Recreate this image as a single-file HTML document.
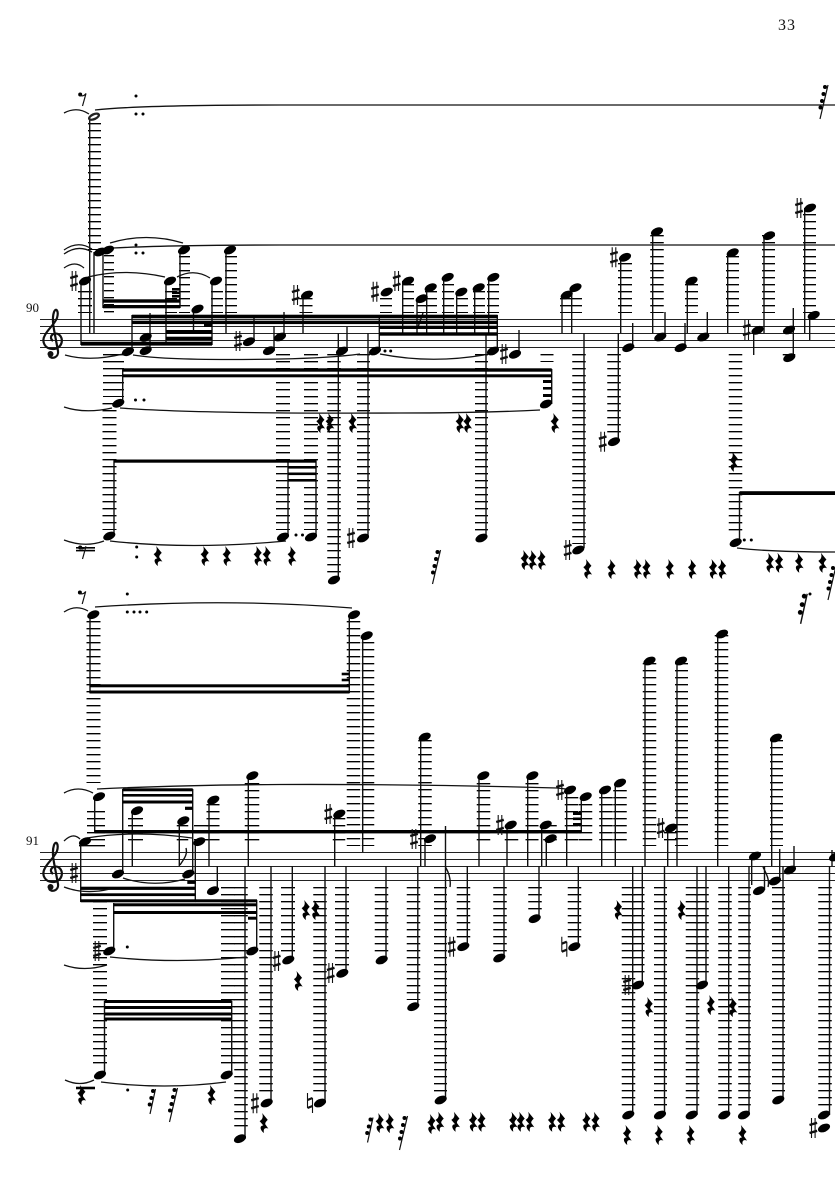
<!DOCTYPE html>
<html><head><meta charset="utf-8"><title>Score page 33</title>
<style>
html,body{margin:0;padding:0;background:#fff}
svg{display:block}
.st{stroke:#222;stroke-width:1.1;fill:none}
.sm path{stroke:#111;stroke-width:1.4;fill:none}
.L path{stroke:#000;stroke-dasharray:1.4 5.6;fill:none}
.T path{stroke:#111;stroke-width:1.3;fill:none}
.B rect{fill:#000}
text{font-family:"Liberation Serif",serif;fill:#111}
</style></head><body>
<svg xmlns="http://www.w3.org/2000/svg" width="835" height="1181" viewBox="0 0 835 1181">
<defs>
<ellipse id="h" rx="6.4" ry="3.9" transform="rotate(-24)"/>
<g id="s" stroke="#111" fill="none"><path d="M-1.8-10V10M1.8-10V10" stroke-width="1.1"/><path d="M-3.8-3L3.8-5.2M-3.8 5L3.8 2.8" stroke-width="2.4"/></g>
<g id="n" stroke="#111" fill="none"><path d="M-2.5-10V5M2.5-5V10" stroke-width="1.1"/><path d="M-2.5-3L2.5-5M-2.5 5L2.5 3" stroke-width="2.2"/></g>
<path id="r" transform="scale(1.25)" d="M-1.5-8L3-2.5C1.5-1 1-.5 1 1L3.5 4.5C1.5 3.5-1 4 0 8C-3 6-4 2-.5 2L-3.5-1.5C-1-3-.5-5-1.5-8Z"/>
<g id="e"><circle cx="-2.8" cy="-5.5" r="2"/><path d="M-3-5C-1-3.5 1-4 3-6.5L-.5 6" stroke="#111" stroke-width="1.2" fill="none"/></g>
<g id="m"><path d="M4-12.5L-1.5 12.5" stroke="#111" stroke-width="1.2"/><circle cx="1.5" cy="-10.5" r="2"/><circle cx="-.2" cy="-3.5" r="2"/><circle cx="-1.8" cy="3" r="2"/></g>
<g id="M"><path d="M5-17L-3 17" stroke="#111" stroke-width="1.2"/><circle cx="2" cy="-15" r="2"/><circle cx=".5" cy="-8" r="2"/><circle cx="-1" cy="-1" r="2"/><circle cx="-2.5" cy="5.5" r="2"/></g>
<g id="c"><path d="M53 341C48 337 53 332 58 334C65 338 62 349 53 349C45 349 41 342 45 335C48 329 54 325 57 318C59 311 56 307 54 312C52 318 53 325 55 335L58 351C59 357 52 360 49 356" fill="none" stroke="#111" stroke-width="2.2"/><circle cx="50.5" cy="354" r="3" fill="#111"/></g>
</defs>
<rect width="835" height="1181" fill="#fff"/>
<text x="778" y="30" font-size="16" letter-spacing="1">33</text>
<text x="26" y="312" font-size="13">90</text>
<text x="26" y="845" font-size="13">91</text>

<path class="st" d="M40 319.5H835M40 326.5H835M40 333.5H835M40 340.5H835M40 347.5H835"/>
<path class="st" d="M40 852.5H835M40 859.5H835M40 866.5H835M40 873.5H835M40 880.5H835"/>
<use href="#c"/><use href="#c" y="533"/>
<use href="#s" x="74" y="873"/>

<g class="L">
<path stroke-width="13" d="M94.5 123V250"/>
<path stroke-width="10" d="M109 255V313"/>
<path stroke-width="14" d="M85 291V313"/>
<path stroke-width="11" d="M184.5 256V313"/>
<path stroke-width="12" d="M171 291V313"/>
<path stroke-width="12" d="M217 291V313"/>
<path stroke-width="12" d="M231 256V313"/>
<path stroke-width="13" d="M306 298V313"/>
<path stroke-width="12" d="M386 298V313"/><path stroke-width="12" d="M408 284V313"/>
<path stroke-width="10" d="M422 305V313"/><path stroke-width="12" d="M431 291V313"/>
<path stroke-width="12" d="M448 284V313"/><path stroke-width="12" d="M462 298V313"/>
<path stroke-width="12" d="M479 291V313"/><path stroke-width="12" d="M493 284V313"/>
<path stroke-width="22" d="M571 298V313"/>
<path stroke-width="14" d="M625 263V313"/>
<path stroke-width="13.5" d="M657 235V313"/>
<path stroke-width="13" d="M691.5 284V313"/>
<path stroke-width="13" d="M732.5 256V313"/>
<path stroke-width="13" d="M768.5 235V313"/>
<path stroke-width="13" d="M809.5 214V313"/>

<path stroke-width="21" d="M113.5 354V397"/>
<path stroke-width="14" d="M109.5 403V530"/>
<path stroke-width="14" d="M283 354V530"/>
<path stroke-width="14" d="M311 354V530"/>
<path stroke-width="13.5" d="M334 354V573"/>
<path stroke-width="13" d="M363.5 354V531"/>
<path stroke-width="13" d="M481.5 354V531"/>
<path stroke-width="13" d="M547 354V362"/>
<path stroke-width="13.5" d="M579 354V544"/>
<path stroke-width="13.5" d="M614 354V435"/>
<path stroke-width="13.5" d="M735.5 354V536"/>
<path stroke-width="12.5" d="M789 354V356"/>

<path stroke-width="14" d="M93.5 621V783"/>
<path stroke-width="18" d="M96 811V846"/>
<path stroke-width="26" d="M92 845V847"/>
<path stroke-width="15" d="M135.5 818V846"/>
<path stroke-width="11.5" d="M182.5 825V846"/>
<path stroke-width="14" d="M201 825V846"/>
<path stroke-width="13" d="M213 804V846"/>
<path stroke-width="14.5" d="M252 783V846"/>
<path stroke-width="13.5" d="M353.5 621V846"/>
<path stroke-width="12.5" d="M368 642V846"/>
<path stroke-width="12.5" d="M339 818V846"/>
<path stroke-width="13.5" d="M425 740V846"/>
<path stroke-width="13.5" d="M483.5 783V846"/>
<path stroke-width="13.5" d="M511.5 832V846"/>
<path stroke-width="13" d="M532 783V846"/>
<path stroke-width="13.5" d="M550 825V846"/>
<path stroke-width="13.5" d="M571.5 797V846"/>
<path stroke-width="13.5" d="M585.5 804V846"/>
<path stroke-width="13.5" d="M606 797V846"/>
<path stroke-width="13.5" d="M620 790V846"/>
<path stroke-width="13.5" d="M649.5 663V846"/>
<path stroke-width="13" d="M670.5 832V846"/>
<path stroke-width="13" d="M681.5 663V846"/>
<path stroke-width="13.5" d="M721.5 635V846"/>
<path stroke-width="13" d="M776.5 740V846"/>

<path stroke-width="14" d="M100 887V1069"/>
<path stroke-width="14" d="M228 887V1069"/>
<path stroke-width="13.5" d="M241 887V1132"/>
<path stroke-width="13.5" d="M266 887V1097"/>
<path stroke-width="14" d="M288 887V953"/>
<path stroke-width="13.5" d="M320 887V1097"/>
<path stroke-width="14" d="M342 887V967"/>
<path stroke-width="13.5" d="M381.5 887V953"/>
<path stroke-width="13.5" d="M413.5 887V1000"/>
<path stroke-width="13" d="M440.5 887V1094"/>
<path stroke-width="13.5" d="M463.5 887V939"/>
<path stroke-width="13.5" d="M500 887V953"/>
<path stroke-width="13.5" d="M535 887V911"/>
<path stroke-width="13.5" d="M574.5 887V939"/>
<path stroke-width="13.5" d="M628.5 887V1108"/>
<path stroke-width="13" d="M638 887V978"/>
<path stroke-width="13" d="M660.5 887V1108"/>
<path stroke-width="13.5" d="M692.5 887V1108"/>
<path stroke-width="13.5" d="M702 887V978"/>
<path stroke-width="13.5" d="M725 887V1108"/>
<path stroke-width="12.5" d="M744.5 887V1108"/>
<path stroke-width="13" d="M778.5 887V1094"/>
<path stroke-width="13.5" d="M825 887V1108"/>
</g>

<g class="sm">
<path d="M89.7 117V333M94 252V333M81 281V345M103 250V308M166 281V345M180 250V308M212 281V345M193.5 309V334M226 250V333"/>
<path d="M132 315V352M150 313V351M254 317V342M274 326V351M284 312V337M303 295V333M338.3 333V580M347 327V351M368 333V538"/>
<path d="M379.3 315V352M402.7 281V334M417 299V333M426.7 288V334M443.7 277V334M456.7 292V334M474.7 288V334M488.7 277V334M497.3 315V351M486 335V538M519 330V354"/>
<path d="M122.7 369V403M551.7 369V404M114 460V536M288 460V537M316 460V537M739.5 492V542"/>
<path d="M562 295V333M571.7 288V333M584 333V548M618.3 333V441M620.7 257V333M632.7 323V348M652.7 232V333M665 312V337M685 323V348M687.3 281V333M707.3 312V337M727.7 253V333M753.7 330V355M764 235V333M793.3 308V358M804.7 208V333M809.7 315V340"/>
<path d="M423 313L418 327"/>
<path d="M90 615V693M94.7 797V832M349.3 615V693M362.7 636V852M122.7 789V873M192.7 789V873M132.3 811V866M179.3 821V866M80.7 842V902M195.3 842V902M209 800V866M248.3 776V866M217.3 866V890M113.7 903V951M256.7 900V951"/>
<path d="M186 848C188 855 183 860 180 865"/>
<path d="M104.5 1001V1075M231.7 1001V1075M245 866V1139M271 866V1103M292.3 866V960M325 866V1103M334.7 814V866M346 866V973M386 866V960M417.8 866V1006M420.7 737V866M425 839V866M445.5 826V1100M450 887C451 880 449 873 445.5 867M467.3 866V947M479 776V866M504 866V958M507 825V866M527.7 776V866M539 866V919M541.7 825V866M546.3 839V866"/>
<path d="M566.7 790V866M578.3 866V947M581.3 797V832M601.7 790V866M615.3 783V866M632.7 866V1115M642.3 866V985M645 661V866M664.5 866V1115M667.7 828V866M677 661V866M697 866V1115M706 866V985M717.7 634V866M728.7 866V1115M749 866V1115M751.7 856V885M771.7 738V866M783 866V1100M829.5 866V1115M779.7 849V881M794 846V870M764.5 866V890M832 850V866"/>
<path d="M763 867C766 873 770 880 768 887"/>
</g>

<g class="B">
<rect x="103" y="299.3" width="77" height="3.4"/><rect x="103" y="305" width="77" height="3.3"/>
<rect x="172" y="288" width="8" height="2.6"/><rect x="172" y="291.5" width="8" height="2.6"/><rect x="172" y="295" width="8" height="2.6"/>
<rect x="81" y="341.7" width="131" height="3.9"/><rect x="166" y="330" width="46" height="4"/><rect x="166" y="336.7" width="46" height="3.3"/>
<rect x="204" y="323" width="8" height="4"/>
<rect x="132" y="314.7" width="365.5" height="3.6"/><rect x="132" y="320.7" width="365.5" height="3.4"/>
<rect x="379" y="325.7" width="118.5" height="3.3"/><rect x="379" y="332.3" width="118.5" height="3.4"/>
<rect x="122.7" y="368.3" width="429" height="3.4"/><rect x="122.7" y="374.3" width="429" height="3"/>
<rect x="543" y="380" width="8.7" height="3"/><rect x="543" y="387" width="8.7" height="2.6"/><rect x="543" y="394" width="8.7" height="3"/>
<rect x="114" y="459.5" width="202" height="3.2"/><rect x="288" y="466" width="28" height="2.6"/><rect x="288" y="472.5" width="28" height="2.6"/><rect x="288" y="479" width="28" height="2.6"/>
<rect x="739.5" y="491.2" width="96" height="3.8"/>
<rect x="76" y="547" width="19" height="1.6"/><rect x="76" y="549.8" width="19" height="1.6"/>
<rect x="89.5" y="684.3" width="260" height="3"/><rect x="89.5" y="690.5" width="260" height="3"/>
<rect x="341.7" y="672.7" width="7.6" height="2.6"/><rect x="341.7" y="678.7" width="7.6" height="2.6"/>
<rect x="122.7" y="788.3" width="70" height="3"/><rect x="122.7" y="794" width="70" height="2.6"/><rect x="122.7" y="800.5" width="70" height="3"/>
<rect x="185" y="806.7" width="7.7" height="3.2"/>
<rect x="94.7" y="830" width="486.6" height="3.4"/>
<rect x="573" y="812" width="8" height="3"/><rect x="573" y="817.5" width="8" height="2.6"/><rect x="573" y="823" width="8" height="3"/>
<rect x="80.7" y="886.7" width="114.6" height="3.2"/><rect x="80.7" y="893.3" width="114.6" height="2.8"/><rect x="80.7" y="899.3" width="114.6" height="3"/>
<rect x="187.3" y="880.7" width="8" height="3.2"/>
<rect x="195" y="899.3" width="62" height="3"/>
<rect x="113.7" y="903.3" width="143" height="3"/><rect x="113.7" y="911" width="143" height="3"/>
<rect x="248" y="916.7" width="8.7" height="3"/>
<rect x="104.5" y="1000" width="127.2" height="3"/><rect x="104.5" y="1006" width="127.2" height="3"/><rect x="104.5" y="1012.5" width="127.2" height="3"/><rect x="104.5" y="1017.5" width="127.2" height="3"/>
<rect x="76" y="1086.7" width="19" height="2.6"/>
</g>

<g class="T">
<path d="M64 113Q77 106 89 114"/>
<path d="M95 110Q140 105 280 105L835 105"/>
<path d="M64 250Q78 240 92 249M64 254Q78 244 92 252M64 268Q75 260 84 268"/>
<path d="M110 243Q146 232 183 243M113 248Q170 245 280 245L835 245"/>
<path d="M88 277Q125 268 165 277M177 277Q194 268 210 278"/>
<path d="M65 355Q90 362 123 354M133 355Q170 361 280 359Q330 358 360 354M380 354Q430 364 484 355"/>
<path d="M64 407Q85 414 112 408M120 408Q200 414 400 413Q480 413 540 410"/>
<path d="M64 540Q85 548 104 541M110 541Q190 550 286 541"/>
<path d="M737 548Q770 552 835 552"/>
<path d="M64 612Q76 604 88 611M95 607Q225 598 352 608"/>
<path d="M64 793Q78 785 93 793M97 789Q180 785 280 784.5Q420 784 557 788L575 790"/>
<path d="M64 841Q73 832 80 839M87 838Q135 830 192 838"/>
<path d="M64 887Q85 895 110 889M123 878Q153 888 185 879"/>
<path d="M110 957Q176 964 247 957M64 965Q84 972 107 965"/>
<path d="M65 1080Q80 1087 94 1080M101 1082Q165 1090 226 1082"/>
</g>

<g>
<circle cx="136" cy="96" r="1.5"/><circle cx="136" cy="114" r="1.5"/><circle cx="143" cy="114" r="1.5"/>
<circle cx="136" cy="245" r="1.5"/><circle cx="136" cy="253" r="1.5"/><circle cx="143" cy="253" r="1.5"/>
<circle cx="135.5" cy="400" r="1.5"/><circle cx="144" cy="400" r="1.5"/>
<circle cx="136.7" cy="547" r="1.5"/><circle cx="136.7" cy="557" r="1.5"/>
<circle cx="296" cy="535" r="1.5"/><circle cx="302.5" cy="535" r="1.5"/>
<circle cx="385" cy="351" r="1.5"/><circle cx="390.7" cy="351" r="1.5"/>
<circle cx="744.3" cy="540" r="1.5"/><circle cx="751.3" cy="540" r="1.5"/>
<circle cx="127.3" cy="594" r="1.5"/><circle cx="127.3" cy="612" r="1.5"/><circle cx="134" cy="612" r="1.5"/><circle cx="140" cy="612" r="1.5"/><circle cx="146.7" cy="612" r="1.5"/>
<circle cx="127.3" cy="947" r="1.5"/><circle cx="127.7" cy="1090" r="1.5"/><circle cx="810" cy="594" r="1.5"/>
</g>

<ellipse cx="94" cy="116.7" rx="6.4" ry="3.6" transform="rotate(-24 94 116.7)" fill="#222"/>
<ellipse cx="94" cy="116.7" rx="4" ry="1.2" transform="rotate(-24 94 116.7)" fill="#fff"/>
<use href="#h" x="100" y="252"/><use href="#h" x="108" y="250"/><use href="#h" x="184" y="250"/><use href="#h" x="230" y="250"/>
<use href="#h" x="85" y="281"/><use href="#h" x="170" y="281"/><use href="#h" x="216" y="281"/><use href="#h" x="197.5" y="309"/>
<use href="#h" x="128" y="351.7"/><use href="#h" x="145.7" y="350.7"/><use href="#h" x="145.7" y="337.3"/>
<use href="#h" x="249" y="341.7"/><use href="#h" x="269" y="350.7"/><use href="#h" x="280" y="337"/><use href="#h" x="307" y="295"/>
<use href="#h" x="342" y="351"/><use href="#h" x="375" y="351"/>
<use href="#h" x="386.7" y="292"/><use href="#h" x="408" y="281"/><use href="#h" x="421.7" y="298.7"/><use href="#h" x="430.7" y="287.7"/><use href="#h" x="447.7" y="277.3"/><use href="#h" x="461.3" y="292"/><use href="#h" x="478.7" y="287.7"/><use href="#h" x="493.3" y="277.3"/>
<use href="#h" x="493" y="351"/><use href="#h" x="515" y="354.3"/>
<use href="#h" x="118.3" y="403.3"/><use href="#h" x="546" y="404"/>
<use href="#h" x="109.3" y="536"/><use href="#h" x="283" y="537"/><use href="#h" x="311" y="537"/>
<use href="#h" x="334" y="580"/><use href="#h" x="363" y="538"/><use href="#h" x="481.5" y="538"/>
<use href="#h" x="578.3" y="550"/><use href="#h" x="614" y="441.7"/>
<use href="#h" x="566.7" y="295"/><use href="#h" x="575.5" y="287.7"/>
<use href="#h" x="625" y="257.3"/><use href="#h" x="628.3" y="347.7"/><use href="#h" x="657" y="231.7"/><use href="#h" x="660.3" y="337"/>
<use href="#h" x="680.7" y="347.7"/><use href="#h" x="691.5" y="281"/><use href="#h" x="703.3" y="337"/><use href="#h" x="732.7" y="252.7"/>
<use href="#h" x="757.5" y="330.3"/><use href="#h" x="769" y="235.7"/><use href="#h" x="789" y="330"/><use href="#h" x="789.3" y="357.7"/>
<use href="#h" x="810" y="208"/><use href="#h" x="813.7" y="315.3"/><use href="#h" x="735.7" y="542.7"/>

<use href="#h" x="93.3" y="614.7"/><use href="#h" x="354" y="614.7"/><use href="#h" x="366.7" y="635.7"/>
<use href="#h" x="99" y="796.7"/><use href="#h" x="137" y="810.7"/><use href="#h" x="183.3" y="820.7"/><use href="#h" x="85" y="841.7"/><use href="#h" x="199.3" y="841.7"/>
<use href="#h" x="118" y="874"/><use href="#h" x="188.3" y="874"/><use href="#h" x="213.3" y="800"/><use href="#h" x="252.3" y="775.7"/><use href="#h" x="213" y="890.7"/>
<use href="#h" x="109.3" y="951"/><use href="#h" x="252.3" y="951"/>
<use href="#h" x="100" y="1075"/><use href="#h" x="226.7" y="1075"/><use href="#h" x="240" y="1138.7"/><use href="#h" x="266.7" y="1103"/>
<use href="#h" x="288.3" y="960"/><use href="#h" x="320" y="1103"/><use href="#h" x="342.3" y="973.3"/><use href="#h" x="381.7" y="960"/>
<use href="#h" x="413.3" y="1006.7"/><use href="#h" x="440.7" y="1100"/><use href="#h" x="463.3" y="946.7"/><use href="#h" x="499.3" y="958"/><use href="#h" x="534.7" y="918.7"/><use href="#h" x="574.3" y="946.7"/>
<use href="#h" x="339.3" y="814"/><use href="#h" x="430" y="838.7"/><use href="#h" x="424.7" y="737"/><use href="#h" x="483.3" y="775.7"/><use href="#h" x="510.7" y="825"/><use href="#h" x="532.3" y="775.7"/><use href="#h" x="545.7" y="825"/><use href="#h" x="550.7" y="838.7"/>
<use href="#h" x="570" y="790"/><use href="#h" x="585.7" y="796.7"/><use href="#h" x="605" y="790"/><use href="#h" x="620" y="783"/>
<use href="#h" x="649.5" y="661"/><use href="#h" x="671" y="828"/><use href="#h" x="681" y="661"/><use href="#h" x="722" y="634"/><use href="#h" x="776" y="738"/>
<use href="#h" x="755" y="856"/><use href="#h" x="759" y="890.7"/><use href="#h" x="775" y="881"/><use href="#h" x="790" y="870"/><use href="#h" x="835" y="857"/>
<use href="#h" x="628.3" y="1115"/><use href="#h" x="660" y="1115"/><use href="#h" x="691.7" y="1115"/><use href="#h" x="724.3" y="1115"/><use href="#h" x="744" y="1115"/><use href="#h" x="778.3" y="1100"/><use href="#h" x="824" y="1115"/><use href="#h" x="824" y="1128"/>
<use href="#h" x="638" y="985"/><use href="#h" x="702" y="985"/>

<use href="#s" x="74" y="281"/><use href="#s" x="238" y="341"/><use href="#s" x="295.7" y="295"/><use href="#s" x="375" y="291.7"/><use href="#s" x="396.7" y="281"/><use href="#s" x="504" y="354"/><use href="#s" x="351" y="538"/><use href="#s" x="567.7" y="550"/><use href="#s" x="602.7" y="441.7"/><use href="#s" x="614" y="257.3"/><use href="#s" x="746.7" y="330"/><use href="#s" x="799" y="208"/>
<use href="#s" x="97" y="951"/><use href="#s" x="255" y="1103.3"/><use href="#s" x="276.7" y="961"/><use href="#s" x="330.7" y="973"/><use href="#s" x="328.3" y="814"/><use href="#s" x="414" y="839"/><use href="#s" x="451.7" y="946.7"/><use href="#s" x="500" y="825"/><use href="#s" x="560" y="790"/><use href="#s" x="660.7" y="828"/><use href="#s" x="627" y="985"/><use href="#s" x="813.3" y="1128"/>
<use href="#n" x="310" y="1103"/><use href="#n" x="564.3" y="946.7"/>

<use href="#e" x="83" y="100"/><use href="#e" x="83" y="553"/><use href="#e" x="82.7" y="598"/>

<use href="#r" x="158" y="556"/><use href="#r" x="205" y="556"/><use href="#r" x="227" y="556"/><use href="#r" x="258" y="556"/><use href="#r" x="267" y="556"/><use href="#r" x="292" y="556"/>
<use href="#r" x="320.7" y="423"/><use href="#r" x="330" y="423"/><use href="#r" x="352.7" y="423"/><use href="#r" x="460" y="423"/><use href="#r" x="467.7" y="423"/><use href="#r" x="555" y="423"/>
<use href="#r" x="525" y="560"/><use href="#r" x="532.7" y="560"/><use href="#r" x="541.7" y="560"/>
<use href="#r" x="587.7" y="569"/><use href="#r" x="611.7" y="569"/><use href="#r" x="637.7" y="569"/><use href="#r" x="646.7" y="569"/><use href="#r" x="670" y="569"/><use href="#r" x="692.3" y="569"/><use href="#r" x="713.3" y="569"/><use href="#r" x="722.3" y="569"/>
<use href="#r" x="734" y="461.7"/><use href="#r" x="770" y="562.7"/><use href="#r" x="779.3" y="562.7"/><use href="#r" x="799.3" y="562.7"/><use href="#r" x="822.7" y="562.7"/>
<use href="#r" x="306" y="910"/><use href="#r" x="315.7" y="910"/><use href="#r" x="298.3" y="981"/><use href="#r" x="618.3" y="910"/><use href="#r" x="681.7" y="910"/>
<use href="#r" x="649" y="1007"/><use href="#r" x="711" y="1005"/><use href="#r" x="733" y="1007"/>
<use href="#r" x="81.7" y="1095"/><use href="#r" x="211.7" y="1095"/><use href="#r" x="264" y="1123"/>
<use href="#r" x="380" y="1123"/><use href="#r" x="390" y="1123"/><use href="#r" x="431.7" y="1124"/><use href="#r" x="440" y="1121.7"/><use href="#r" x="455.7" y="1121.7"/><use href="#r" x="473.3" y="1121.7"/><use href="#r" x="481.7" y="1121.7"/><use href="#r" x="513.3" y="1121.7"/><use href="#r" x="521" y="1121.7"/><use href="#r" x="530" y="1121.7"/><use href="#r" x="552.3" y="1121.7"/><use href="#r" x="561.3" y="1121.7"/><use href="#r" x="586.7" y="1121.7"/><use href="#r" x="595.7" y="1121.7"/>
<use href="#r" x="627.3" y="1135"/><use href="#r" x="659" y="1135"/><use href="#r" x="690.7" y="1135"/><use href="#r" x="742.7" y="1135"/>

<use href="#M" x="823" y="102"/><use href="#M" x="435.5" y="567"/><use href="#m" x="802" y="609" transform="translate(-160 -122) scale(1.2)"/>
<use href="#m" x="151.5" y="1101.5"/><use href="#M" x="172.5" y="1105"/><use href="#m" x="369" y="1130"/><use href="#M" x="402.5" y="1133"/><use href="#M" x="831" y="583"/>
</svg>
</body></html>
